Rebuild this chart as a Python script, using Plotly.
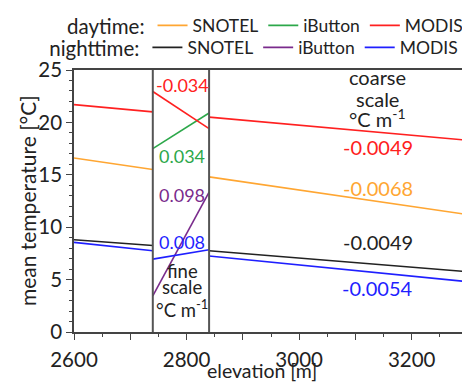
import plotly.graph_objects as go

# --- data ---
elev_coarse = [2600, 2740, None, 2840, 3300]
elev_fine = [2740, 2840]

snotel_day = [16.6, 15.5, None, 14.8, 11.2]
modis_day = [21.7, 21.0, None, 20.5, 18.3]
snotel_night = [8.8, 8.25, None, 7.75, 5.75]
modis_night = [8.55, 7.75, None, 7.25, 4.8]

ibutton_day_fine = [17.5, 20.9]
ibutton_night_fine = [3.45, 13.35]
modis_day_fine = [22.95, 19.4]
modis_night_fine = [6.95, 7.85]

coarse_labels = ["-0.0049", "-0.0068", "-0.0049", "-0.0054"]
coarse_label_y = [17.67, 13.75, 8.6, 4.2]
fine_labels = ["-0.034", "0.034", "0.098", "0.008"]
fine_label_y = [23.6, 16.84, 13.1, 8.62]

coarse_title = ["coarse", "scale", "°C m<sup>-1</sup>"]
coarse_title_y = [24.33, 22.25, 20.45]
fine_title = ["fine", "scale", "°C m<sup>-1</sup>"]
fine_title_y = [5.85, 4.3, 2.25]

x_tickvals = [2600, 2700, 2800, 2900, 3000, 3100, 3200, 3300]
x_ticktext = ["2600", "", "2800", "", "3000", "", "3200", ""]

x_title = "elevation [m]"
y_title = "mean temperature [°C]"

C_ORANGE = "#ffa632"
C_GREEN = "#2ca84a"
C_RED = "#ff2020"
C_BLACK = "#222222"
C_PURPLE = "#7a2b8c"
C_BLUE = "#1f1fff"

FONT = "Lato"

fig = go.Figure()

def add(x, y, color, name, legend, show=True):
    fig.add_trace(go.Scatter(x=x, y=y, mode="lines", name=name,
                             line=dict(color=color, width=1.6),
                             legend=legend, showlegend=show,
                             connectgaps=False))

add(elev_coarse, snotel_day, C_ORANGE, "SNOTEL", "legend")
add(elev_fine, ibutton_day_fine, C_GREEN, "iButton", "legend")
add(elev_coarse, modis_day, C_RED, "MODIS", "legend")
add(elev_fine, modis_day_fine, C_RED, "MODIS", "legend", show=False)

add(elev_coarse, snotel_night, C_BLACK, "SNOTEL", "legend2")
add(elev_fine, ibutton_night_fine, C_PURPLE, "iButton", "legend2")
add(elev_coarse, modis_night, C_BLUE, "MODIS", "legend2")
add(elev_fine, modis_night_fine, C_BLUE, "MODIS", "legend2", show=False)

# fine-scale box boundaries
for xv in elev_fine:
    fig.add_shape(type="line", xref="x", yref="paper", x0=xv, x1=xv, y0=0, y1=1,
                  line=dict(color="#555555", width=2))

coarse_colors = [C_RED, C_ORANGE, C_BLACK, C_BLUE]
for t, yv, c in zip(coarse_labels, coarse_label_y, coarse_colors):
    fig.add_annotation(x=3140, y=yv, text=t, showarrow=False,
                       font=dict(family=FONT, size=20, color=c))
for t, yv in zip(coarse_title, coarse_title_y):
    fig.add_annotation(x=3140, y=yv, text=t, showarrow=False,
                       font=dict(family=FONT, size=20, color=C_BLACK))

fine_colors = [C_RED, C_GREEN, C_PURPLE, C_BLUE]
for t, yv, c in zip(fine_labels, fine_label_y, fine_colors):
    fig.add_annotation(x=2792, y=yv, text=t, showarrow=False,
                       font=dict(family=FONT, size=18, color=c))
for t, yv in zip(fine_title, fine_title_y):
    fig.add_annotation(x=2792, y=yv, text=t, showarrow=False,
                       font=dict(family=FONT, size=18.5, color=C_BLACK))

# axis titles
fig.add_annotation(xref="paper", yref="paper", x=0.477, y=-0.148, text=x_title,
                   showarrow=False, yanchor="middle",
                   font=dict(family=FONT, size=19.5, color="#222222"))
fig.add_annotation(xref="paper", yref="paper", x=-0.119, y=0.5, text=y_title,
                   showarrow=False, textangle=-90, xanchor="center", yanchor="middle",
                   font=dict(family=FONT, size=21, color="#222222"))

axis_common = dict(showline=True, linecolor="#444444", linewidth=1.5, mirror=True,
                   ticks="outside", tickcolor="#444444", ticklen=6, tickwidth=1.2,
                   showgrid=False, zeroline=False, automargin=False,
                   tickfont=dict(family=FONT, size=20.5, color="#222222"))

fig.update_xaxes(range=[2600, 3300], tickmode="array", tickvals=x_tickvals,
                 ticktext=x_ticktext, ticklabelstandoff=3,
                 minor=dict(ticks="outside", dtick=50, ticklen=3, tickcolor="#444444"),
                 **axis_common)
fig.update_yaxes(range=[0, 25], dtick=5,
                 minor=dict(ticks="outside", dtick=1, ticklen=3, tickcolor="#444444"),
                 **axis_common)

legend_common = dict(orientation="h", xref="paper", yref="paper", xanchor="left",
                     yanchor="middle", bgcolor="rgba(0,0,0,0)", borderwidth=0,
                     font=dict(family=FONT, size=17.5, color="#222222"),
                     itemwidth=30, tracegroupgap=0)

fig.update_layout(
    width=462, height=377,
    margin=dict(l=66, r=2, t=62, b=53, autoexpand=False),
    paper_bgcolor="white", plot_bgcolor="white",
    font=dict(family=FONT, color="#222222"),
    legend=dict(title=dict(text="daytime:", side="left",
                           font=dict(family=FONT, size=20.5, color="#222222")),
                x=-0.0226, y=1.168, **legend_common),
    legend2=dict(title=dict(text="nighttime:", side="left",
                            font=dict(family=FONT, size=20.5, color="#222222")),
                 x=-0.068, y=1.084, **legend_common),
)

fig.write_html("out.html")
